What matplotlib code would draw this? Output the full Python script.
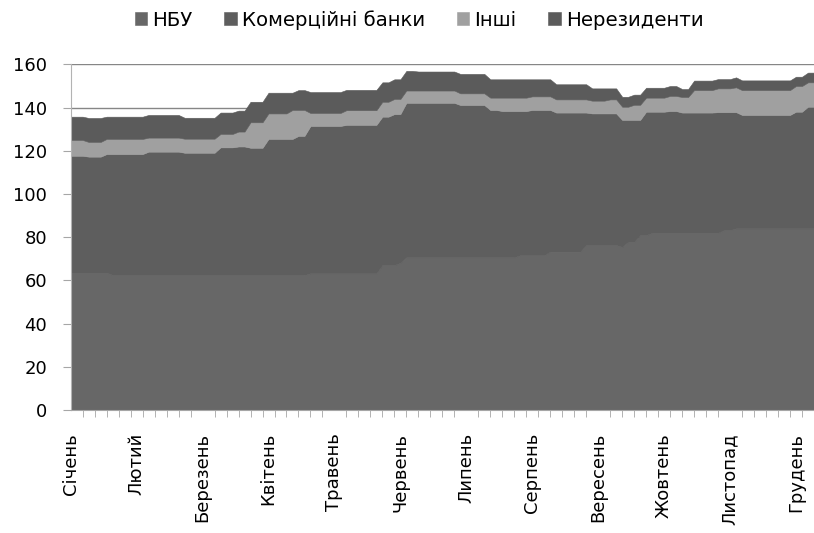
import numpy as np
import matplotlib.pyplot as plt

# місяці (підписи осі X) і їх позиції в рядах (крок = 2 торгові дні)
months = ['Січень', 'Лютий', 'Березень', 'Квітень', 'Травень', 'Червень',
          'Липень', 'Серпень', 'Вересень', 'Жовтень', 'Листопад', 'Грудень']
month_pos = [0, 11, 22, 33, 44, 55, 66, 77, 88, 99, 110, 121]

series_names = ['НБУ', 'Комерційні банки', 'Інші', 'Нерезиденти']

nbu = [
    63.6, 63.6, 63.6, 63.6, 63.6, 63.6, 63.6,
    62.5, 62.5, 62.5, 62.5, 62.5, 62.5, 62.5, 62.5, 62.5, 62.5, 62.5,
    62.5, 62.5, 62.5, 62.5, 62.5, 62.5, 62.5, 62.5, 62.5, 62.5, 62.5,
    62.5, 62.5, 62.5, 62.5, 62.5, 62.5, 62.5, 62.5, 62.5, 62.5, 62.5,
    63.3, 63.3, 63.3, 63.3, 63.3, 63.3, 63.3, 63.3, 63.3, 63.3, 63.3, 63.3,
    67.1, 67.1, 67.1,
    68.2,
    70.7, 70.7, 70.7, 70.7, 70.7, 70.7, 70.7, 70.7, 70.7, 70.7,
    70.7, 70.7, 70.7, 70.7, 70.7, 70.7, 70.7, 70.7, 70.7,
    71.7, 71.7, 71.7, 71.7, 71.7,
    73.3, 73.3, 73.3, 73.3, 73.3, 73.3,
    76.4, 76.4, 76.4, 76.4, 76.4, 76.4,
    75.5,
    77.9, 77.9,
    81.0, 81.0,
    82.0, 82.0, 82.0, 82.0, 82.0, 82.0, 82.0, 82.0, 82.0, 82.0, 82.0, 82.0,
    83.3, 83.3,
    84.1, 84.1, 84.1, 84.1, 84.1, 84.1, 84.1, 84.1, 84.1, 84.1, 84.1, 84.1, 84.1, 84.1,
]

banks = [
    54.1, 54.1, 54.1,
    53.7, 53.7, 53.7,
    54.9,
    56.0, 56.0, 56.0, 56.0, 56.0, 56.0,
    57.1, 57.1, 57.1, 57.1, 57.1, 57.1,
    56.6, 56.6, 56.6, 56.6, 56.6, 56.6,
    59.1, 59.1, 59.1,
    59.5, 59.5,
    58.9, 58.9, 58.9,
    63.0, 63.0, 63.0, 63.0,
    63.0,
    64.4, 64.4,
    68.2, 68.2, 68.2, 68.2, 68.2, 68.2,
    68.7, 68.7, 68.7, 68.7, 68.7, 68.7,
    68.7, 68.7,
    69.9,
    68.8,
    71.5, 71.5, 71.5, 71.5, 71.5, 71.5, 71.5, 71.5, 71.5,
    70.5, 70.5, 70.5, 70.5, 70.5,
    68.2, 68.2,
    67.7, 67.7, 67.7,
    66.7, 66.7,
    67.2, 67.2, 67.2,
    65.6,
    64.4, 64.4, 64.4, 64.4, 64.4,
    61.3,
    60.9, 60.9, 60.9, 60.9, 60.9,
    58.8,
    56.4, 56.4,
    53.3,
    57.1,
    56.1, 56.1, 56.1,
    56.4, 56.4,
    55.7, 55.7, 55.7, 55.7, 55.7, 55.7,
    55.9,
    54.6, 54.6,
    53.8,
    52.5, 52.5, 52.5, 52.5, 52.5, 52.5, 52.5, 52.5, 52.5,
    54.0, 54.0,
    56.3, 56.3,
]

others = [
    7.3, 7.3, 7.3,
    6.8, 6.8, 6.8,
    7.0, 7.0, 7.0, 7.0, 7.0, 7.0, 7.0,
    6.5, 6.5, 6.5, 6.5, 6.5, 6.5, 6.5, 6.5, 6.5, 6.5, 6.5, 6.5,
    6.2, 6.2, 6.2,
    6.9, 6.9,
    11.8, 11.8, 11.8, 11.8, 11.8, 11.8, 11.8,
    13.4,
    12.0, 12.0,
    6.0, 6.0, 6.0, 6.0, 6.0, 6.0,
    6.8, 6.8, 6.8, 6.8, 6.8, 6.8,
    6.9, 6.9,
    7.0, 7.0,
    5.7, 5.7, 5.7, 5.7, 5.7, 5.7, 5.7, 5.7, 5.7,
    5.4, 5.4, 5.4, 5.4, 5.4,
    5.7, 5.7,
    6.2, 6.2, 6.2, 6.2, 6.2,
    6.3, 6.3, 6.3, 6.3,
    6.1, 6.1, 6.1, 6.1, 6.1, 6.1,
    5.9, 5.9, 5.9,
    6.5, 6.5,
    6.1, 6.1,
    7.0, 7.0,
    6.5, 6.5, 6.5, 6.5,
    7.0, 7.0,
    7.2, 7.2,
    10.4, 10.4, 10.4, 10.4,
    11.0, 11.0, 11.0,
    11.5, 11.5, 11.5, 11.5, 11.5, 11.5, 11.5, 11.5, 11.5, 11.5,
    11.9, 11.9,
    11.3, 11.3,
]

nonres = [
    10.8, 10.8, 10.8,
    11.1, 11.1, 11.1,
    10.3, 10.3, 10.3, 10.3, 10.3, 10.3, 10.3,
    10.5, 10.5, 10.5, 10.5, 10.5, 10.5,
    9.7, 9.7, 9.7, 9.7, 9.7, 9.7,
    9.9, 9.9, 9.9,
    9.7, 9.7,
    9.5, 9.5, 9.5,
    9.6, 9.6, 9.6, 9.6,
    8.0,
    9.2, 9.2,
    9.7, 9.7, 9.7, 9.7, 9.7, 9.7,
    9.4, 9.4, 9.4, 9.4, 9.4, 9.4,
    9.0, 9.0,
    9.1, 9.1, 9.1, 9.1,
    8.8, 8.8, 8.8, 8.8, 8.8, 8.8, 8.8,
    9.0, 9.0, 9.0, 9.0, 9.0,
    8.5, 8.5, 8.5, 8.5, 8.5, 8.5, 8.5,
    7.9, 7.9, 7.9, 7.9,
    7.0, 7.0, 7.0, 7.0, 7.0, 7.0,
    5.7, 5.7, 5.7,
    5.1, 5.1,
    4.6, 4.6,
    4.7, 4.7,
    4.6, 4.6, 4.6, 4.6, 4.6, 4.6,
    3.7, 3.7,
    4.4, 4.4, 4.4, 4.4,
    4.3, 4.3, 4.3,
    4.6,
    4.5, 4.5, 4.5, 4.5, 4.5, 4.5, 4.5, 4.5, 4.5,
    4.3, 4.3,
    4.5, 4.5,
]

colors = ['#676767', '#5e5e5e', '#a0a0a0', '#5b5b5b']
x = np.arange(len(nbu))

W, H = 814, 533
fig = plt.figure(figsize=(W / 100, H / 100), dpi=100)
ax = fig.add_axes([70.7 / W, 123 / H, 1 - 70.7 / W, 345.6 / H])

polys = ax.stackplot(x, nbu, banks, others, nonres, colors=colors,
                     labels=series_names, edgecolor='face', linewidth=0.4)

ax.set_xlim(0, 123.9)
ax.set_ylim(0, 160)
ax.set_yticks(range(0, 161, 20))
ax.yaxis.grid(True, color='#868686', linewidth=1)
ax.set_axisbelow(True)

for s in ['top', 'right']:
    ax.spines[s].set_visible(False)
ax.spines['left'].set_color('#b3b3b3')
ax.spines['bottom'].set_color('#a6a6a6')

ax.set_xticks(month_pos)
ax.set_xticklabels(months, rotation=90)
ax.set_xticks(range(0, len(nbu), 2), minor=True)
ax.tick_params(axis='x', which='major', length=0, pad=16.5, labelsize=13)
ax.tick_params(axis='x', which='minor', length=5, color='#a6a6a6', direction='out')
ax.tick_params(axis='y', length=6, color='#a6a6a6', pad=11, labelsize=13)

leg = fig.legend(handles=polys, labels=series_names, loc='center',
                 bbox_to_anchor=(0.5147, 1 - 20 / H), ncol=4, frameon=False,
                 handlelength=0.65, handleheight=0.65, handletextpad=0.25,
                 columnspacing=1.6, prop={'size': 14.2})

fig.savefig('out.png', dpi=100)
